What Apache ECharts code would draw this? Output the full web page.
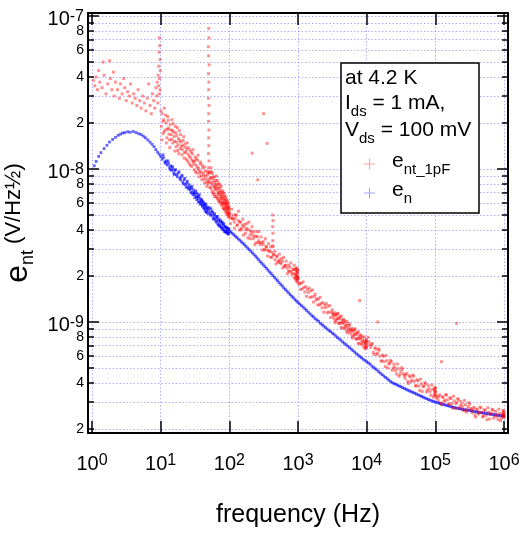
<!DOCTYPE html>
<html><head><meta charset="utf-8">
<script src="https://cdn.jsdelivr.net/npm/echarts@6/dist/echarts.min.js"></script>
<style>html,body{margin:0;padding:0;background:#fff}#c{width:520px;height:534px}</style>
</head><body><div id="c"></div>
<script>
// ---------------- data (frequency in Hz, noise in nV/Hz^1/2) ----------------
const xTicks = [1, 10, 100, 1000, 10000, 100000, 1000000];
const yDecadeLabels = [1e-9, 1e-8, 1e-7];
const yMinorLabels = [2e-10,4e-10,6e-10,8e-10,2e-9,4e-9,6e-9,8e-9,2e-8,4e-8,6e-8,8e-8];
const yMajorTicks = [1e-9, 1e-8, 1e-7];
const yMinorTicks = [2e-10,3e-10,4e-10,5e-10,6e-10,7e-10,8e-10,9e-10,1e-9,2e-9,3e-9,4e-9,5e-9,6e-9,7e-9,8e-9,9e-9,1e-8,2e-8,3e-8,4e-8,5e-8,6e-8,7e-8,8e-8,9e-8,1e-7];

// e_n (blue)
const enLow = [[1.08,10.5],[1.15,11.2],[1.25,12.1],[1.35,12.8],[1.5,13.6],[1.65,14.3],[1.8,15.0],[2.0,15.6],[2.2,16.1],[2.4,16.6],[2.6,16.9],[2.8,17.2],[3.0,17.3],[3.3,17.5],[3.6,17.4],[4.0,17.6],[4.4,17.3],[4.8,17.0],[5.2,16.8],[5.6,16.4],[6.0,16.0],[6.5,15.5],[7.0,15.0],[7.5,14.5],[8.0,14.0],[8.5,13.4],[9.0,12.9],[9.5,12.5],[10,12.1]];
const enMid = [[10.5,11.6],[11,11.9],[11.5,11.1],[12,11.3],[12.5,10.6],[13,10.9],[13.5,10.2],[14,10.5],[14.5,9.8],[15,10.1],[15.5,9.4],[16,9.8],[17,9.2],[18,9.4],[19,8.7],[20,8.9],[21,8.2],[22,8.5],[23,7.9],[24,8.1],[25,7.6],[26,7.9],[27,7.3],[28,7.5],[29,7.0],[30,7.3],[31,6.8],[32,7.0],[33,6.6],[34,6.9],[35,6.4],[36,6.6],[37,6.1],[38,6.4],[39,5.9],[40,6.2],[41,5.8],[42,6.0],[43,5.6],[44,5.9],[45,5.5],[46,5.7],[47,5.3],[48,5.6],[50,5.4],[52,5.2],[54,5.5],[55,5.0],[57,5.2],[58,4.8],[60,5.0],[62,4.7],[63,4.9],[65,4.6],[66,4.8],[68,4.4],[70,4.6],[72,4.3],[74,4.5],[76,4.2],[78,4.4],[80,4.1],[82,4.3],[84,4.0],[86,4.2],[88,3.9],[90,4.1],[92,3.9],[94,4.0],[96,3.8],[98,4.0],[100,3.9]];
const enMid2 = [[10.8,12.4],[11.8,10.9],[12.8,11.3],[13.8,9.9],[14.8,10.4],[15.8,9.2],[16.5,9.9],[17.5,8.9],[18.5,9.6],[19.5,8.5],[20.5,9.1],[21.5,8.0],[22.5,8.7],[23.5,7.6],[24.5,8.3],[25.5,7.4],[26.5,7.6],[27.5,7.0],[28.5,7.7],[29.5,6.8],[30.5,7.0],[31.5,6.5],[32.5,7.2],[33.5,6.3],[34.5,6.6],[35.5,6.1],[36.5,6.8],[37.5,5.9],[38.5,6.1],[39.5,6.3],[40.5,5.7],[41.5,6.1],[42.5,5.5],[43.5,5.8],[44.5,5.3],[45.5,5.9],[46.5,5.2],[47.5,5.5],[49,5.1],[51,5.6],[53,5.0],[56,5.3],[59,4.7],[61,5.1],[64,4.5],[67,4.9],[69,4.3],[71,4.7],[73,4.2],[75,4.6],[77,4.1],[79,4.5],[81,4.0],[83,4.4],[85,3.9],[87,4.2],[89,3.85],[91,4.15],[93,3.8],[95,4.1],[97,3.75],[99,4.05]];
const enHigh1 = [[105,3.88],[110,3.80],[116,3.72],[122,3.64],[128,3.57],[135,3.49],[142,3.42],[150,3.34],[158,3.27],[166,3.20],[175,3.12],[185,3.04],[195,2.97],[206,2.90],[217,2.83],[229,2.76],[241,2.69],[254,2.62],[268,2.55],[282,2.48],[297,2.42],[313,2.36],[330,2.30],[348,2.24],[367,2.18],[387,2.12],[408,2.07],[430,2.01],[453,1.96],[478,1.91],[504,1.86],[531,1.81],[560,1.76],[590,1.72],[622,1.67],[656,1.63],[692,1.59],[730,1.55],[770,1.51],[812,1.47],[856,1.44],[903,1.40],[952,1.37],[1000,1.34]];
const enHigh2 = [[1060,1.31],[1120,1.28],[1190,1.25],[1260,1.22],[1330,1.19],[1410,1.16],[1500,1.13],[1590,1.10],[1680,1.08],[1780,1.05],[1890,1.03],[2000,1.01],[2120,0.98],[2240,0.96],[2370,0.94],[2510,0.92],[2660,0.90],[2820,0.88],[2990,0.865],[3170,0.845],[3350,0.83],[3550,0.81],[3760,0.79],[3980,0.775],[4220,0.76],[4470,0.74],[4730,0.725],[5010,0.71],[5310,0.695],[5620,0.68],[5960,0.665],[6310,0.65],[6680,0.635],[7080,0.62],[7500,0.608],[7940,0.595],[8410,0.583],[8910,0.571],[9440,0.56],[10000,0.55]];
const enHigh3 = [[10600,0.54],[11200,0.53],[11900,0.515],[12600,0.505],[13300,0.495],[14100,0.485],[15000,0.473],[15800,0.463],[16800,0.453],[17800,0.443],[18800,0.434],[20000,0.425],[21100,0.416],[22400,0.408],[23700,0.40],[25100,0.396],[26600,0.391],[28200,0.386],[29900,0.381],[31600,0.377],[33500,0.372],[35500,0.367],[37600,0.363],[39800,0.358],[42200,0.354],[44700,0.350],[47300,0.346],[50100,0.342],[53100,0.338],[56200,0.334],[59600,0.330],[63100,0.326],[66800,0.322],[70800,0.318],[75000,0.315],[79400,0.311],[84100,0.308],[89100,0.305],[94400,0.302],[100000,0.299]];
const enHigh4 = [[106000,0.297],[112000,0.295],[119000,0.292],[126000,0.290],[133000,0.288],[141000,0.286],[150000,0.284],[158000,0.282],[168000,0.280],[178000,0.278],[188000,0.276],[200000,0.274],[211000,0.273],[224000,0.271],[237000,0.270],[251000,0.268],[266000,0.267],[282000,0.266],[299000,0.265],[316000,0.264],[335000,0.262],[355000,0.261],[376000,0.259],[398000,0.258],[422000,0.257],[447000,0.256],[473000,0.255],[501000,0.254],[531000,0.253],[562000,0.252],[596000,0.251],[631000,0.250],[668000,0.249],[708000,0.248],[750000,0.247],[794000,0.246],[841000,0.245],[891000,0.244],[944000,0.243],[1000000,0.242]];

// e_nt_1pF (red)
const entLow = [[1.05,38],[1.1,35],[1.15,40],[1.2,33],[1.25,44],[1.3,37],[1.4,34],[1.45,50],[1.5,41],[1.6,31],[1.7,36],[1.8,51],[1.85,39],[1.95,33],[2.05,43],[2.1,30],[2.2,37],[2.35,33],[2.5,29],[2.6,36],[2.75,31],[2.9,39],[3.0,34],[3.15,28],[3.3,32],[3.5,30],[3.65,36],[3.85,27],[4.05,31],[4.25,29],[4.5,26],[4.7,33],[4.95,28],[5.2,25],[5.5,30],[5.8,27],[6.1,24],[6.4,29],[6.7,36],[7.0,26],[7.3,23],[7.6,31],[7.9,28],[8.2,25],[8.5,34],[8.8,30],[9.1,27]];
const entSpike10 = [[9.6,72],[9.7,64],[9.5,58],[9.8,52],[9.4,47],[9.9,44],[9.2,41],[9.6,39],[8.9,37],[9.3,35],[9.8,33],[9.5,31]];
const ent10to50 = [[10.2,19],[10.5,23],[10.8,17],[11,21],[11.3,25],[11.6,18],[12,20],[12.3,16],[12.7,22],[13,18.5],[13.4,15.5],[13.8,19.5],[14.2,16.8],[14.6,21],[15,14.8],[15.4,17.5],[15.9,15.2],[16.3,19],[16.8,14],[17.2,16.5],[17.7,13.2],[18.2,15.8],[18.7,17.8],[19.2,13.6],[19.8,15],[20.4,12.4],[21,14.2],[21.6,16.3],[22.2,12.8],[22.9,13.9],[23.6,11.6],[24.3,14.8],[25,12.5],[25.8,10.9],[26.6,13.3],[27.4,11.8],[28.2,10.4],[29,12.6],[29.9,11.2],[30.8,9.9],[31.7,12],[32.6,10.6],[33.5,9.4],[34.5,11.4],[35.5,10.1],[36.5,8.9],[37.6,10.8],[38.7,9.6],[39.8,8.5],[41,10.2],[42.2,9.1],[43.4,8.1],[44.6,9.7],[45.8,8.6],[47,7.7],[48.3,9.2],[49.5,8.3]];
const ent10to50b = [[10.1,24],[10.4,15.5],[10.9,20.5],[11.2,17.5],[11.8,22.5],[12.1,14.8],[12.5,18.2],[12.9,20.8],[13.2,16.9],[13.6,13.8],[14.0,18.0],[14.4,15.6],[14.8,17.9],[15.2,19.8],[15.7,16.3],[16.1,13.1],[16.6,17.2],[17.0,15.0],[17.5,18.6],[17.9,14.4],[18.4,12.6],[18.9,15.3],[19.5,16.8],[20.0,14.1],[20.7,13.4],[21.3,15.4],[21.9,11.8],[22.5,14.6],[23.2,12.9],[23.9,13.4],[24.6,11.3],[25.4,13.8],[26.2,12.1],[27.0,10.6],[27.8,12.9],[28.6,11.4],[29.5,13.4],[30.3,10.8],[31.2,11.3],[32.1,9.6],[33.0,11.7],[34.0,10.3],[35.0,12.3],[36.0,9.8],[37.0,9.4],[38.1,11.1],[39.2,9.0],[40.4,10.6],[41.6,9.4],[42.8,8.6],[44.0,10.3],[45.2,9.0],[46.4,8.2],[47.7,9.6],[48.9,8.0]];
const entSpike50 = [[50,83],[50.5,72],[49.5,63],[50,55],[50.8,48],[49.8,42],[50.3,37],[50,33],[49.6,29],[50.5,26],[50.1,23],[49.9,20.5],[50.4,18],[50,16],[50.2,14.2],[49.7,12.6],[50.6,11.3],[50,10.2],[50.3,9.5]];
const ent50to100 = [[51,9.6],[52,7.6],[53,8.8],[54,10.2],[55,8.1],[56,7.2],[57,9.3],[58,8.4],[59,7.0],[60,8.9],[61,7.7],[62,6.8],[63,8.4],[64,7.3],[65,9.0],[66,6.5],[67,7.9],[68,7.0],[69,6.2],[70,8.1],[71,6.8],[72,7.5],[73,6.0],[74,7.0],[75,6.4],[76,7.7],[77,5.8],[78,6.7],[79,6.1],[80,7.2],[81,5.6],[82,6.4],[83,5.9],[84,6.9],[85,5.4],[86,6.2],[87,5.7],[88,6.6],[89,5.2],[90,6.0],[91,5.5],[92,6.3],[93,5.1],[94,5.7],[95,5.3],[96,6.0],[97,4.9],[98,5.5],[99,5.1],[100,5.6]];
const ent50to100b = [[50.5,8.6],[51.5,8.2],[52.5,9.4],[53.5,7.5],[54.5,8.7],[55.5,9.6],[56.5,7.9],[57.5,6.9],[58.5,8.8],[59.5,7.6],[60.5,6.6],[61.5,8.1],[62.5,7.4],[63.5,7.9],[64.5,6.6],[65.5,7.6],[66.5,8.4],[67.5,6.4],[68.5,7.5],[69.5,6.9],[70.5,7.2],[71.5,6.2],[72.5,7.9],[73.5,6.6],[74.5,6.1],[75.5,7.2],[76.5,6.4],[77.5,6.9],[78.5,5.9],[79.5,6.6],[80.5,6.0],[81.5,7.0],[82.5,5.5],[83.5,6.3],[84.5,6.0],[85.5,6.6],[86.5,5.5],[87.5,6.0],[88.5,5.8],[89.5,6.3],[90.5,5.3],[91.5,5.9],[92.5,5.6],[93.5,5.0],[94.5,6.1],[95.5,5.5],[96.5,5.1],[97.5,5.8],[98.5,5.3],[99.5,4.8]];
const ent100to1k = [[101,5.15],[104,4.4],[108,5.45],[111,4.75],[115,5.0],[119,4.1],[122,4.75],[127,5.0],[131,4.3],[136,5.3],[140,4.0],[146,4.5],[150,4.1],[157,4.7],[161,3.7],[168,4.35],[174,4.0],[181,4.4],[186,3.55],[193,4.5],[200,3.7],[206,3.95],[214,4.2],[221,3.5],[229,3.9],[236,3.2],[245,3.65],[252,3.9],[262,3.3],[270,3.9],[281,3.3],[290,3.6],[300,2.95],[312,3.35],[322,2.98],[335,3.5],[346,3.1],[360,2.7],[372,3.25],[387,2.9],[400,3.1],[415,2.65],[428,3.15],[445,2.75],[460,2.9],[478,2.4],[495,2.67],[515,2.45],[535,2.78],[555,2.45],[578,2.6],[600,2.25],[622,2.65],[648,2.33],[672,2.5],[700,2.07],[728,2.35],[755,2.14],[785,2.43],[815,2.05],[848,2.22],[880,2.35],[912,1.93],[940,2.14],[965,1.82],[985,2.16],[998,1.92],[880,1.95],[920,2.05],[950,1.9],[975,2.0],[990,2.08],[960,2.25],[935,1.88],[995,1.85],[900,2.2],[430,5.0],[432,4.6],[428,4.2],[431,3.8],[429,3.4],[433,3.1],[316,23],[355,14.7],[215,12.7],[260,8.5]];
const ent100to1kb = [[102,5.0],[107,4.8],[113,4.7],[118,4.5],[123,5.0],[129,4.3],[135,4.6],[141,4.5],[148,4.0],[155,4.3],[163,4.2],[172,3.8],[180,4.1],[190,4.0],[200,3.5],[210,3.85],[220,3.7],[232,3.6],[244,3.3],[256,3.6],[268,3.4],[282,3.2],[297,3.3],[312,3.2],[328,2.95],[344,3.1],[361,2.95],[380,2.9],[400,2.65],[420,2.85],[440,2.75],[462,2.55],[487,2.7],[512,2.5],[537,2.55],[565,2.4],[595,2.5],[625,2.3],[657,2.35],[692,2.25],[727,2.15],[762,2.28],[800,2.15],[840,2.08],[880,2.2],[915,2.05],[945,1.98],[975,2.12],[995,1.95],[985,2.2],[965,2.0],[940,2.25]];
const ent1kto10k = [[1000,1.93],[1029,1.76],[1059,1.79],[1090,1.63],[1122,1.79],[1155,1.65],[1189,1.83],[1223,1.68],[1259,1.57],[1296,1.70],[1334,1.47],[1372,1.63],[1413,1.56],[1454,1.67],[1496,1.45],[1540,1.60],[1585,1.46],[1631,1.62],[1679,1.35],[1728,1.47],[1778,1.52],[1830,1.39],[1884,1.42],[1939,1.29],[1995,1.41],[2054,1.30],[2113,1.45],[2175,1.32],[2239,1.24],[2304,1.34],[2371,1.16],[2441,1.29],[2512,1.24],[2585,1.32],[2661,1.15],[2738,1.27],[2818,1.16],[2901,1.28],[2985,1.07],[3073,1.16],[3162,1.20],[3255,1.10],[3350,1.12],[3447,1.02],[3548,1.12],[3652,1.03],[3758,1.14],[3868,1.05],[3981,0.98],[4097,1.06],[4217,0.92],[4340,1.02],[4467,0.98],[4597,1.04],[4732,0.905],[4870,1.00],[5012,0.913],[5158,1.01],[5309,0.846],[5464,0.917],[5623,0.952],[5788,0.869],[5957,0.886],[6131,0.806],[6310,0.883],[6494,0.813],[6683,0.904],[6879,0.827],[7079,0.776],[7286,0.840],[7499,0.726],[7718,0.805],[7943,0.772],[8175,0.825],[8414,0.716],[8660,0.791],[8913,0.722],[9173,0.801],[9441,0.669],[9716,0.725],[10000,0.753],[7900,1.38]];
const ent1kto10kb = [[3208,1.13],[3302,1.06],[3399,1.15],[3497,0.99],[3599,1.10],[3705,1.05],[3812,1.13],[3924,0.98],[4039,1.08],[4156,0.985],[4278,1.094],[4403,0.913],[4532,0.99],[4664,1.027],[4801,0.938],[4941,0.955],[5085,0.87],[5233,0.952],[5386,0.877],[5543,0.975],[5705,0.893],[5872,0.838],[6043,0.907],[6220,0.784],[6401,0.869],[6588,0.834],[6780,0.89],[6979,0.773],[7182,0.853],[7392,0.779],[7608,0.864],[7830,0.721],[8058,0.783],[8294,0.812],[8536,0.742],[8786,0.756],[9042,0.688],[9306,0.753],[9578,0.694],[9857,0.771],[9950,0.70],[9900,0.745],[9800,0.72],[9750,0.675],[9650,0.735],[9990,0.68]];
const ent10kto100k = [[10500,0.795],[11120,0.711],[11780,0.710],[12480,0.633],[13220,0.679],[14010,0.612],[14500,1.0],[14840,0.667],[15720,0.598],[16650,0.556],[17640,0.596],[18680,0.511],[19790,0.559],[20960,0.532],[22200,0.562],[23520,0.483],[24920,0.529],[26400,0.481],[27960,0.531],[29620,0.441],[31380,0.476],[33240,0.491],[35210,0.446],[37300,0.451],[39510,0.408],[41850,0.445],[44340,0.407],[46970,0.450],[49750,0.410],[52700,0.383],[55830,0.413],[59140,0.357],[62650,0.394],[66370,0.377],[70310,0.402],[74480,0.348],[78900,0.383],[83580,0.349],[88540,0.387],[93790,0.322],[99350,0.349]];
const ent10kto100kb = [[10800,0.743],[11440,0.683],[12120,0.724],[12840,0.613],[13600,0.665],[14420,0.626],[15270,0.655],[16180,0.556],[17130,0.608],[18150,0.550],[19220,0.605],[20360,0.500],[21570,0.537],[22840,0.551],[24200,0.499],[25640,0.504],[27170,0.457],[28770,0.496],[30480,0.455],[32290,0.503],[34200,0.458],[36230,0.428],[38380,0.461],[40660,0.396],[43060,0.437],[45630,0.416],[48330,0.442],[51190,0.382],[54230,0.419],[57450,0.381],[60860,0.423],[64470,0.351],[68300,0.381],[72350,0.394],[76640,0.359],[81190,0.365],[86010,0.331],[91110,0.362],[96510,0.333],[99800,0.370],[97500,0.355],[98500,0.34],[99000,0.365],[99500,0.33],[98000,0.372]];
const ent100kto1M = [[100800,0.350],[105900,0.319],[112200,0.326],[118900,0.297],[123000,0.55],[125900,0.325],[133400,0.301],[141300,0.336],[149600,0.309],[158500,0.291],[167900,0.316],[177800,0.274],[188400,0.305],[199500,0.293],[204000,0.98],[211300,0.315],[223900,0.274],[237100,0.302],[251200,0.276],[266100,0.307],[281800,0.257],[298500,0.279],[316200,0.290],[335000,0.266],[354800,0.271],[375800,0.246],[398100,0.270],[421700,0.250],[446700,0.278],[473200,0.256],[501200,0.242],[530900,0.264],[562300,0.230],[595700,0.257],[631000,0.249],[668300,0.269],[707900,0.235],[749900,0.261],[794300,0.241],[841400,0.269],[891300,0.226],[944100,0.247]];
const ent100kto1Mb = [[103700,0.328],[109000,0.309],[115500,0.334],[122300,0.289],[129600,0.321],[137300,0.309],[145400,0.332],[153900,0.289],[163100,0.320],[172800,0.293],[183000,0.327],[193900,0.273],[205300,0.298],[217500,0.310],[230400,0.283],[244000,0.289],[258500,0.263],[273800,0.288],[290000,0.266],[307200,0.297],[325400,0.272],[344700,0.256],[365100,0.277],[386700,0.239],[409600,0.266],[433900,0.255],[459700,0.274],[486900,0.240],[515700,0.267],[546300,0.245],[578700,0.275],[613000,0.232],[649300,0.254],[687700,0.265],[728500,0.244],[771700,0.250],[817400,0.230],[865800,0.253],[917100,0.235],[971500,0.264],[980000,0.25],[990000,0.243],[995000,0.256],[1000000,0.238],[975000,0.24],[985000,0.262],[960000,0.252],[1000000,0.248]];

// ---------------- chart ----------------
const FONT = '"Liberation Sans", Arial, sans-serif';
const nV = 1e-9;
const toV = arr => arr.map(p => [p[0], p[1] * nV]);
const enData = toV([].concat(enLow, enMid, enMid2, enHigh1, enHigh2, enHigh3, enHigh4));
const entData = toV([].concat(entLow, entSpike10, ent10to50, ent10to50b, entSpike50, ent50to100, ent50to100b,
  ent100to1k, ent100to1kb, ent1kto10k, ent1kto10kb, ent10kto100k, ent10kto100kb, ent100kto1M, ent100kto1Mb));

const xMin = Math.pow(10, -0.058), xMax = Math.pow(10, 6.058);
const yMin = 1.88e-10, yMax = 1.047e-7;
const gridColor = 'rgba(120,120,255,0.6)';

function decFmt(v) {
  const n = Math.round(Math.log10(v));
  return '{b|10}{s|' + n + '}';
}
function mantFmt(v) {
  const e = Math.floor(Math.log10(v) + 1e-6);
  return '{m|' + Math.round(v / Math.pow(10, e)) + '}';
}
const supRich = {
  b: { fontSize: 20, lineHeight: 22, fontFamily: FONT, color: '#000' },
  s: { fontSize: 16, lineHeight: 2, verticalAlign: 'top', fontFamily: FONT, color: '#000' },
  m: { fontSize: 14, lineHeight: 16, fontFamily: FONT, color: '#000' }
};

function yAx(pos, major) {
  const left = pos === 'left';
  return {
    type: 'log', position: pos, min: yMin, max: yMax, gridIndex: 0,
    axisLine: { show: major, onZero: false, lineStyle: { color: '#000', width: 2 } },
    axisTick: { show: true, inside: true, length: major ? 11 : 6, customValues: major ? yMajorTicks : yMinorTicks,
      lineStyle: { color: '#000', width: 1.5 } },
    axisLabel: { show: left, customValues: major ? yDecadeLabels : yMinorLabels, formatter: major ? decFmt : mantFmt,
      rich: supRich, margin: 4, padding: major ? [7, 0, 0, 0] : 0 },
    splitLine: { show: !major && left, lineStyle: { type: [1.5, 2], color: gridColor, width: 1 } },
    name: (major && left) ? '{e|e}{s|nt}{t| (V/Hz½)}' : '',
    nameLocation: 'middle', nameRotate: 90, nameGap: 32,
    nameTextStyle: { rich: {
      e: { fontSize: 32, lineHeight: 34, verticalAlign: 'top', fontFamily: FONT, color: '#000' },
      s: { fontSize: 18, lineHeight: 18, verticalAlign: 'bottom', fontFamily: FONT, color: '#000' },
      t: { fontSize: 22, lineHeight: 34, verticalAlign: 'top', fontFamily: FONT, color: '#000' }
    } }
  };
}
function xAx(pos) {
  const bottom = pos === 'bottom';
  return {
    type: 'log', position: pos, min: xMin, max: xMax, gridIndex: 0,
    axisLine: { show: true, onZero: false, lineStyle: { color: '#000', width: 2 } },
    axisTick: { show: true, inside: true, length: 12, customValues: xTicks, lineStyle: { color: '#000', width: 1.5 } },
    axisLabel: { show: bottom, customValues: xTicks, formatter: decFmt, rich: supRich, margin: 20 },
    splitLine: { show: bottom, lineStyle: { type: [1.5, 2], color: gridColor, width: 1 } },
    name: bottom ? 'frequency (Hz)' : '',
    nameLocation: 'middle', nameGap: 70,
    nameTextStyle: { fontSize: 25, fontFamily: FONT, color: '#000' }
  };
}

const plusIcon = 'path://M4.5,0h1v4.5h4.5v1h-4.5v4.5h-1v-4.5h-4.5v-1h4.5z';
const boxRich = {
  b: { fontSize: 21, lineHeight: 26, verticalAlign: 'top', fontFamily: FONT, fill: '#000' },
  s: { fontSize: 15, lineHeight: 12, verticalAlign: 'bottom', fontFamily: FONT, fill: '#000' }
};

const chart = echarts.init(document.getElementById('c'), null, { renderer: 'canvas' });
chart.setOption({
  animation: false,
  backgroundColor: '#fff',
  grid: { left: 88, right: 12, top: 13, bottom: 101, containLabel: false, outerBoundsMode: 'none' },
  xAxis: [xAx('bottom'), xAx('top')],
  yAxis: [yAx('left', true), yAx('left', false), yAx('right', true), yAx('right', false)],
  legend: {
    orient: 'vertical', left: 364, top: 151, padding: 0, itemGap: 3, itemWidth: 11, itemHeight: 11,
    selectedMode: false, z: 20,
    data: [
      { name: 'ent1pF', icon: plusIcon, itemStyle: { color: '#ff9090' } },
      { name: 'en', icon: plusIcon, itemStyle: { color: '#9090ff' } }
    ],
    formatter: n => n === 'ent1pF' ? '{e|e}{s|nt_1pF}' : '{e|e}{s|n}',
    textStyle: { rich: {
      e: { fontSize: 21, lineHeight: 26, verticalAlign: 'top', fontFamily: FONT, color: '#000', padding: [0, 0, 0, 12] },
      s: { fontSize: 15, lineHeight: 10, verticalAlign: 'bottom', fontFamily: FONT, color: '#000' }
    } }
  },
  graphic: [
    { type: 'rect', z: 10, shape: { x: 341, y: 63, width: 138, height: 150 },
      style: { fill: '#fff', stroke: '#000', lineWidth: 1.5 } },
    { type: 'text', z: 11, x: 345, y: 81,
      style: { text: '{b|at 4.2 K}', rich: boxRich, verticalAlign: 'middle' } },
    { type: 'text', z: 11, x: 345, y: 106,
      style: { text: '{b|I}{s|ds}{b| = 1 mA,}', rich: boxRich, verticalAlign: 'middle' } },
    { type: 'text', z: 11, x: 345, y: 133,
      style: { text: '{b|V}{s|ds}{b| = 100 mV}', rich: boxRich, verticalAlign: 'middle' } }
  ],
  series: [
    { name: 'en', type: 'scatter', xAxisIndex: 0, yAxisIndex: 0, data: enData,
      symbol: 'rect', symbolSize: 2.8, itemStyle: { color: 'rgba(0,0,255,0.75)' }, silent: true, z: 2 },
    { name: 'ent1pF', type: 'scatter', xAxisIndex: 0, yAxisIndex: 0, data: entData,
      symbol: 'rect', symbolSize: 2.9, itemStyle: { color: 'rgba(255,0,0,0.55)' }, silent: true, z: 3 }
  ]
});
</script>
</body></html>
